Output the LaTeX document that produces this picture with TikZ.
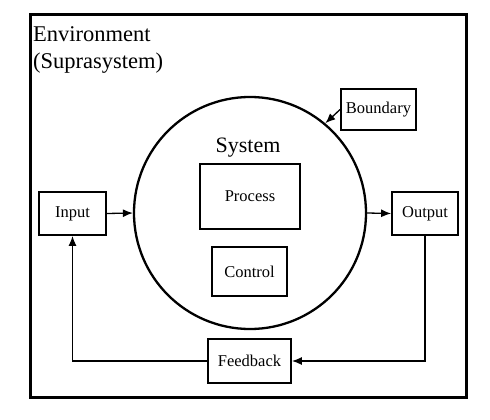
\documentclass[tikz,border=0pt]{standalone}
\usepackage{fontspec}
\setmainfont{Liberation Serif}
\usetikzlibrary{arrows.meta}

\begin{document}
\begin{tikzpicture}[x=1pt, y=-1pt,
        box/.style={draw=black, line width=1.8pt, font=\fontsize{16.5}{19}\selectfont, inner sep=2pt},
        flow/.style={line width=1.3pt, -{Latex[length=10pt, width=8pt]}}]
    \useasboundingbox (0,0) rectangle (490,420);
    % environment frame
    \draw[line width=3pt] (30,15) rectangle (466,397);
    \node[anchor=north west, align=left, inner sep=0pt, font=\fontsize{22.5}{27}\selectfont] (env) at (33,26) {Environment\\(Suprasystem)};
    % system
    \node[circle, draw=black, line width=2.3pt, minimum size=232pt] (system) at (250,213) {};
    \node[anchor=base, font=\fontsize{22}{26}\selectfont] (systemlabel) at (248,152) {System};
    \node[box, minimum width=100pt, minimum height=65pt] (process) at (250,196.5) {Process};
    \node[box, minimum width=75pt, minimum height=49pt] (control) at (249.5,271.5) {Control};
    % outer boxes
    \node[box, minimum width=67pt, minimum height=43pt] (input) at (72.5,213.5) {Input};
    \node[box, minimum width=66pt, minimum height=43pt] (output) at (425,213.5) {Output};
    \node[box, minimum width=75pt, minimum height=41pt] (boundary) at (378.5,109.5) {Boundary};
    \node[box, minimum width=83pt, minimum height=44pt] (feedback) at (249.5,361) {Feedback};
    % connectors
    \draw[flow] (input.east) -- (system.west);
    \draw[flow] (system.east) -- (output.west);
    \draw[flow] (boundary.west) -- (system.50);
    \draw[flow] (output.south) |- (feedback.east);
    \draw[flow] (feedback.west) -| (input.south);
\end{tikzpicture}
\end{document}
